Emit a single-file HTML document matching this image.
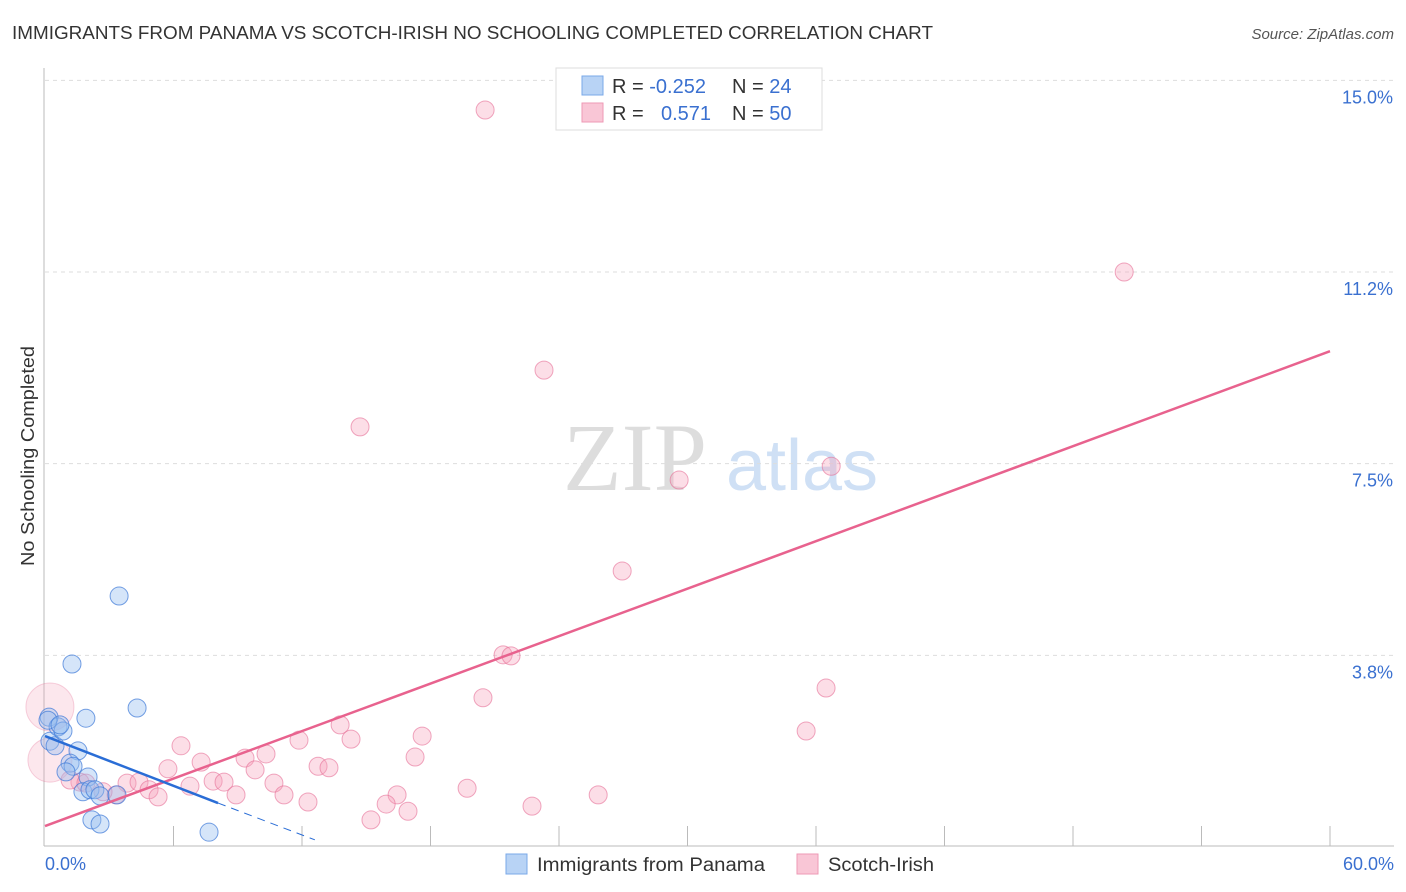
<!DOCTYPE html>
<html><head><meta charset="utf-8"><style>
body{margin:0;background:#fff;font-family:"Liberation Sans",sans-serif;}
svg{display:block}
</style></head><body>
<svg id="chart" width="1406" height="892">
<text x="12" y="39" font-size="18" fill="#333" textLength="921" lengthAdjust="spacingAndGlyphs">IMMIGRANTS FROM PANAMA VS SCOTCH-IRISH NO SCHOOLING COMPLETED CORRELATION CHART</text>
<text x="1394" y="39" font-size="15" fill="#555" font-style="italic" text-anchor="end">Source: ZipAtlas.com</text>
<text x="34" y="456" font-size="18" fill="#333" text-anchor="middle" textLength="220" lengthAdjust="spacingAndGlyphs" transform="rotate(-90 34 456)">No Schooling Completed</text>
<g>
<text x="635" y="490" font-size="96" fill="#ddd" font-family="Liberation Serif,serif" text-anchor="middle">ZIP</text>
<text x="802" y="490" font-size="72" fill="#cfe0f5" text-anchor="middle">atlas</text>
</g>
<g id="grid"></g>
<g id="axes"></g>
<g id="pts"></g>
<g id="lines"></g>
<g>
<rect x="556" y="68" width="266" height="62" fill="#fff" stroke="#ddd"/>
<rect x="582" y="76" width="21" height="19" fill="#b8d3f5" stroke="#7aa8e8"/>
<rect x="582" y="103" width="21" height="19" fill="#f9c6d6" stroke="#ee99b5"/>
<text x="612" y="93" font-size="20" fill="#333">R = <tspan fill="#3a70d0">-0.252</tspan></text>
<text x="732" y="93" font-size="20" fill="#333">N = <tspan fill="#3a70d0">24</tspan></text>
<text x="612" y="120" font-size="20" fill="#333">R = <tspan fill="#3a70d0" x="661">0.571</tspan></text>
<text x="732" y="120" font-size="20" fill="#333">N = <tspan fill="#3a70d0">50</tspan></text>
</g>
<g>
<rect x="506" y="854" width="21" height="20" fill="#b8d3f5" stroke="#7aa8e8"/>
<text x="537" y="871" font-size="19" fill="#333" textLength="228" lengthAdjust="spacingAndGlyphs">Immigrants from Panama</text>
<rect x="797" y="854" width="21" height="20" fill="#f9c6d6" stroke="#ee99b5"/>
<text x="828" y="871" font-size="19" fill="#333" textLength="106" lengthAdjust="spacingAndGlyphs">Scotch-Irish</text>
</g>
</svg>
<script>
const yTicks=[15.0,11.2,7.5,3.8];
const yTickVals=[15,11.25,7.5,3.75];
const xTickLabels=["0.0%","60.0%"];
const blueX=[0.19,0.23,0.47,0.61,0.84,1.26,1.54,1.91,1.17,1.31,2.01,1.77,2.10,2.33,2.57,3.36,3.46,4.30,2.19,2.57,7.66,0.98,0.14,0.70];
const blueY=[2.54,2.07,1.98,2.35,2.27,3.58,1.88,2.52,1.64,1.58,1.37,1.08,1.12,1.12,1.00,1.02,4.91,2.72,0.53,0.45,0.29,1.47,2.48,2.39];
const pinkX=[20.55,50.39,23.30,14.71,36.71,29.61,26.95,21.39,21.76,20.45,36.47,35.54,13.78,14.29,17.61,11.86,6.35,10.32,9.34,7.29,17.28,12.75,13.26,5.74,9.81,7.85,8.36,10.69,3.83,4.39,4.86,6.77,8.92,11.16,5.28,3.32,16.44,19.71,25.83,22.74,15.93,12.28,16.95,15.22,1.63,1.17,2.71,1.91,0.23,0.23];
const pinkY=[14.42,11.25,9.33,8.22,7.45,7.18,5.40,3.76,3.74,2.92,3.11,2.27,2.39,2.11,2.17,2.09,1.98,1.82,1.74,1.66,1.76,1.58,1.55,1.53,1.51,1.29,1.27,1.25,1.25,1.27,1.12,1.19,1.02,1.02,0.98,1.02,1.02,1.15,1.02,0.80,0.84,0.88,0.70,0.53,1.27,1.31,1.08,1.25,2.74,1.70];
const pinkR=[9,9,9,9,9,9,9,9,9,9,9,9,9,9,9,9,9,9,9,9,9,9,9,9,9,9,9,9,9,9,9,9,9,9,9,9,9,9,9,9,9,9,9,9,9,9,9,9,24,22];
const blueLine=[[0,2.17],[8.08,0.86]];
const blueDash=[[8.08,0.86],[12.6,0.14]];
const pinkLine=[[0,0.41],[60,9.70]];
const NS="http://www.w3.org/2000/svg";
const sx=v=>45+v/60*1285;
const sy=v=>847-v*51.11;
function mk(tag,attrs,parent){const e=document.createElementNS(NS,tag);for(const k in attrs)e.setAttribute(k,attrs[k]);document.getElementById(parent).appendChild(e);return e;}
yTickVals.forEach((v,i)=>{
 const l=mk('line',{x1:45,x2:1394,y1:sy(v),y2:sy(v),stroke:'#ddd','stroke-dasharray':'4,4'},'grid');
 
 
 const t=mk('text',{x:1393,y:sy(v)+23,'font-size':18,fill:'#3a70d0','text-anchor':'end'},'axes');
 t.textContent=yTicks[i].toFixed(1)+'%';
 
 
});
const ax=mk('line',{x1:44,x2:44,y1:68,y2:846,stroke:'#bbb'},'axes');


const bx=mk('line',{x1:44,x2:1394,y1:846,y2:846,stroke:'#bbb'},'axes');


for(let i=1;i<=10;i++){
 const t=mk('line',{x1:sx(i*6),x2:sx(i*6),y1:826,y2:846,stroke:'#bbb'},'axes');
 
 
}
[[45,'start'],[1394,'end']].forEach((p,i)=>{
 const t=mk('text',{x:p[0],y:870,'font-size':18,fill:'#3a70d0','text-anchor':p[1]},'axes');
 t.textContent=xTickLabels[i];
 
 
});
pinkX.forEach((x,i)=>{
 const big=pinkR[i]>12;
 const c=mk('circle',{cx:sx(x),cy:sy(pinkY[i]),r:pinkR[i],fill:big?'rgba(245,160,185,0.25)':'rgba(245,160,185,0.35)',stroke:big?'rgba(230,110,150,0.3)':'rgba(230,110,150,0.6)','stroke-width':1},'pts');
 
 
});
blueX.forEach((x,i)=>{
 const c=mk('circle',{cx:sx(x),cy:sy(blueY[i]),r:9,fill:'rgba(150,190,240,0.4)',stroke:'rgba(60,120,215,0.7)','stroke-width':1},'pts');
 
 
});
const pl=mk('line',{x1:sx(pinkLine[0][0]),y1:sy(pinkLine[0][1]),x2:sx(pinkLine[1][0]),y2:sy(pinkLine[1][1]),stroke:'#e8628e','stroke-width':2.5},'lines');


const bl=mk('line',{x1:sx(blueLine[0][0]),y1:sy(blueLine[0][1]),x2:sx(blueLine[1][0]),y2:sy(blueLine[1][1]),stroke:'#2a6dd6','stroke-width':2.5},'lines');


const bd=mk('line',{x1:sx(blueDash[0][0]),y1:sy(blueDash[0][1]),x2:sx(blueDash[1][0]),y2:sy(blueDash[1][1]),stroke:'#2a6dd6','stroke-width':1,'stroke-dasharray':'8,6'},'lines');


</script>
</body></html>
